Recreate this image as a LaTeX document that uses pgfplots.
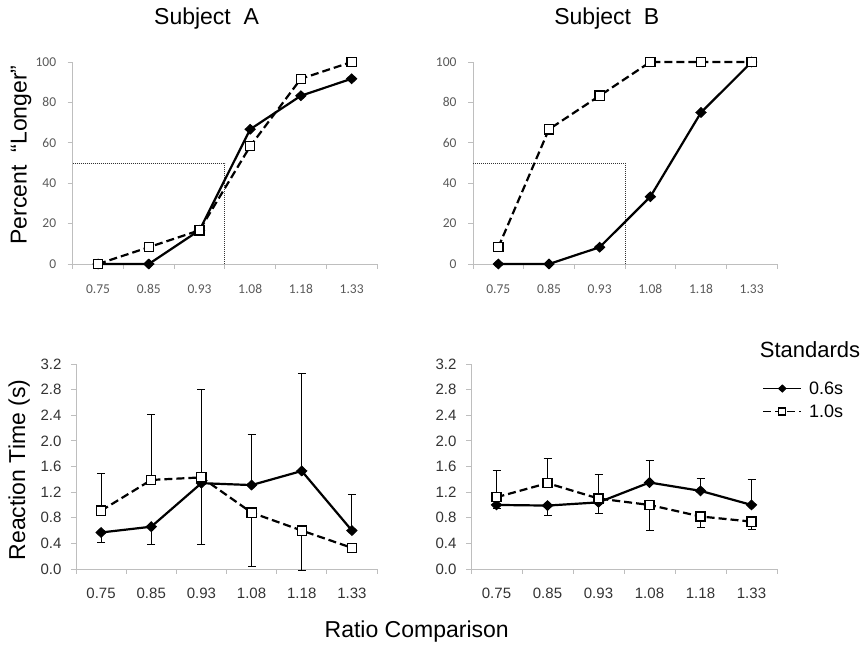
\documentclass[border=0pt]{standalone}
\usepackage{pgfplots}
\pgfplotsset{compat=1.18}
\usepackage{fontspec}
\setmainfont{Liberation Sans}
\newfontfamily\calibri{Carlito}

\definecolor{axisgray}{RGB}{190,190,190}
\definecolor{ticktop}{RGB}{89,89,89}
\definecolor{tickbot}{RGB}{51,51,51}

\pgfplotsset{
  panel/.style={
    scale only axis, anchor=south west, clip=false,
    xmin=0.5, xmax=6.5,
    axis lines*=left,
    axis line style={-, draw=axisgray, line width=0.8pt},
    xtick={1,2,3,4,5,6},
    xticklabels={0.75,0.85,0.93,1.08,1.18,1.33},
    minor xtick={0.5,1.5,2.5,3.5,4.5,5.5,6.5},
    tick align=outside,
    major tick length=5pt, minor tick length=5pt,
    tick style={draw=axisgray, line width=0.8pt},
    major x tick style={draw=none},
    every axis title/.style={at={(0.44,1)}, anchor=base, yshift=37pt,
      font=\fontsize{23}{26}\selectfont},
  },
  toppanel/.style={panel, height=202pt, ymin=0, ymax=100,
    ytick={0,20,40,60,80,100}, yticklabels={0,20,40,60,80,100},
    ticklabel style={font=\calibri\fontsize{13.5}{15}\selectfont, text=ticktop},
    xticklabel style={yshift=-12pt}, yticklabel style={xshift=-8pt}},
  botpanel/.style={panel, height=205pt, ymin=0, ymax=3.2,
    ytick={0,0.4,0.8,1.2,1.6,2,2.4,2.8,3.2},
    yticklabels={0.0,0.4,0.8,1.2,1.6,2.0,2.4,2.8,3.2},
    ticklabel style={font=\fontsize{15}{17}\selectfont, text=tickbot},
    xticklabel style={yshift=-10pt}, yticklabel style={xshift=-6pt}},
  s06/.style={black, line width=2.2pt, mark=diamond*, mark size=4.8pt,
    mark options={solid, fill=black, xscale=1.4, line width=1pt}},
  s10/.style={black, line width=2.2pt, dash pattern=on 8pt off 4pt,
    mark=square*, mark size=4.6pt,
    mark options={solid, fill=white, line width=1.3pt}},
  eb/.style={draw=none, mark=none, forget plot,
    error bars/.cd, y dir=#1, y explicit,
    error bar style={draw=black, line width=0.9pt, solid},
    error mark options={rotate=90, draw=black, line width=0.9pt, mark size=4pt}},
  ref/.style={forget plot, black!80, line width=0.8pt,
    dash pattern=on 1pt off 1pt, mark=none},
}

\begin{document}
\begin{tikzpicture}
\useasboundingbox (0,0) rectangle (868pt,645pt);

% Subject A, percent "longer"
\begin{axis}[toppanel, at={(72.7pt,381pt)}, width=304.3pt,
  title={Subject\ \ A},
  ylabel={Percent\ \ “Longer”},
  every axis y label/.style={at={(-0.151,0.54)}, rotate=90, anchor=base,
    font=\fontsize{23}{26}\selectfont}]
\addplot[ref] coordinates {(0.5,50) (3.5,50) (3.5,0)};
\addplot[s06] coordinates {(1,0) (2,0) (3,16.7) (4,66.7) (5,83.3) (6,91.7)};
\addplot[s10] coordinates {(1,0) (2,8.3) (3,16.7) (4,58.3) (5,91.7) (6,100)};
\end{axis}

% Subject B, percent "longer"
\begin{axis}[toppanel, at={(473pt,381pt)}, width=304pt,
  title={Subject\ \ B}]
\addplot[ref] coordinates {(0.5,50) (3.5,50) (3.5,0)};
\addplot[s06] coordinates {(1,0) (2,0) (3,8.3) (4,33.3) (5,75) (6,100)};
\addplot[s10] coordinates {(1,8.3) (2,66.7) (3,83.3) (4,100) (5,100) (6,100)};
\end{axis}

% Subject A, reaction time
\begin{axis}[botpanel, at={(76pt,76pt)}, width=301pt,
  ylabel={Reaction Time (s)},
  every axis y label/.style={at={(-0.169,0.483)}, rotate=90, anchor=base,
    font=\fontsize{23}{26}\selectfont}]
\addplot[eb=plus] coordinates {
  (1,0.91) +- (0,0.58) (2,1.39) +- (0,1.03) (3,1.43) +- (0,1.37)
  (4,1.31) +- (0,0.79) (5,1.53) +- (0,1.52) (6,0.60) +- (0,0.57)};
\addplot[eb=minus] coordinates {
  (1,0.57) +- (0,0.15) (2,0.66) +- (0,0.28) (3,1.34) +- (0,0.96)
  (4,0.88) +- (0,0.84) (5,0.60) +- (0,0.63)};
\addplot[s06] coordinates {(1,0.57) (2,0.66) (3,1.34) (4,1.31) (5,1.53) (6,0.60)};
\addplot[s10] coordinates {(1,0.91) (2,1.39) (3,1.43) (4,0.88) (5,0.60) (6,0.33)};
\end{axis}

% Subject B, reaction time
\begin{axis}[botpanel, at={(471pt,76pt)}, width=306pt,
  legend style={at={(0.952,0.824)}, anchor=west, draw=none, fill=none,
    inner sep=0pt, font=\fontsize{18}{20}\selectfont, row sep=5pt,
    column sep=5pt},
  legend cell align=left,
  legend image code/.code={\draw[mark repeat=2,mark phase=2,#1]
    plot coordinates {(0pt,0pt) (19pt,0pt) (38pt,0pt)};},
  legend image post style={mark size=3.5pt, line width=1.6pt}]
\addplot[eb=plus] coordinates {
  (1,1.12) +- (0,0.42) (2,1.34) +- (0,0.39) (3,1.10) +- (0,0.38)
  (4,1.35) +- (0,0.35) (5,1.22) +- (0,0.20) (6,1.00) +- (0,0.39)};
\addplot[eb=minus] coordinates {
  (1,1.00) +- (0,0.05) (2,0.99) +- (0,0.16) (3,1.04) +- (0,0.18)
  (4,1.00) +- (0,0.40) (5,0.82) +- (0,0.17) (6,0.74) +- (0,0.12)};
\addplot[s06] coordinates {(1,1.00) (2,0.99) (3,1.04) (4,1.35) (5,1.22) (6,1.00)};
\addlegendentry{0.6s}
\addplot[s10] coordinates {(1,1.12) (2,1.34) (3,1.10) (4,1.00) (5,0.82) (6,0.74)};
\addlegendentry{1.0s}
\end{axis}

\node[anchor=base, font=\fontsize{22}{24}\selectfont] at (810pt,287pt) {Standards};
\node[anchor=base, font=\fontsize{23}{26}\selectfont] at (416.7pt,7pt) {Ratio Comparison};
\end{tikzpicture}
\end{document}
